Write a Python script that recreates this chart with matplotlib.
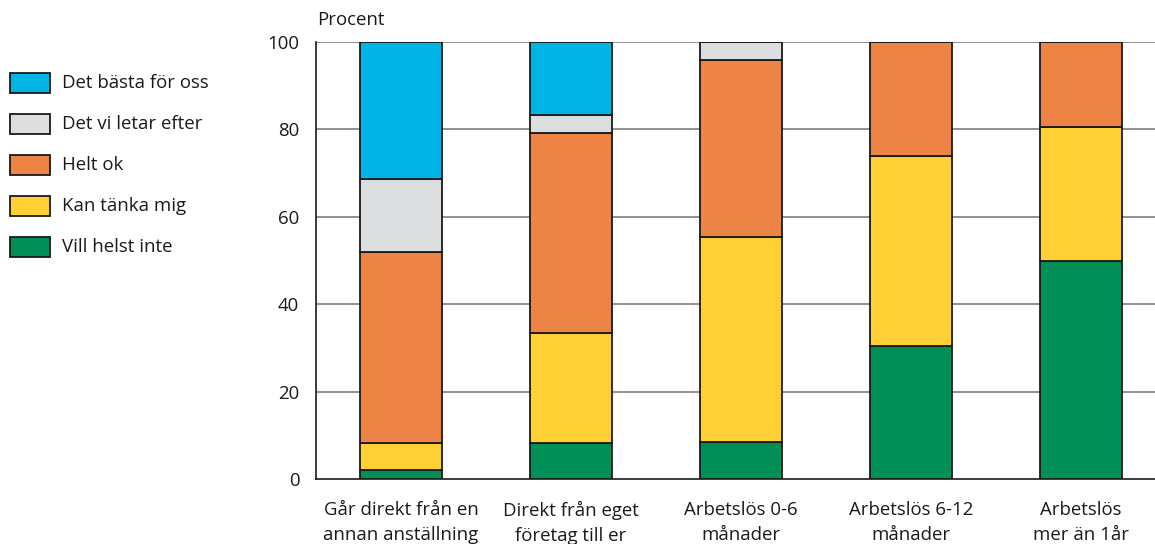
import matplotlib
matplotlib.use("Agg")
import matplotlib.pyplot as plt
import numpy as np
from matplotlib.patches import Rectangle

categories = ["Går direkt från en\nannan anställning",
              "Direkt från eget\nföretag till er",
              "Arbetslös 0-6\nmånader",
              "Arbetslös 6-12\nmånader",
              "Arbetslös\nmer än 1år"]
series_names = ["Vill helst inte", "Kan tänka mig", "Helt ok", "Det vi letar efter", "Det bästa för oss"]
vill_helst_inte = [2.0, 8.2, 8.4, 30.4, 50.0]
kan_tanka_mig = [6.2, 25.2, 47.0, 43.6, 30.5]
helt_ok = [43.7, 45.8, 40.5, 26.0, 19.5]
det_vi_letar_efter = [16.7, 4.1, 4.1, 0.0, 0.0]
det_basta_for_oss = [31.4, 16.7, 0.0, 0.0, 0.0]
yticks = [0, 20, 40, 60, 80, 100]

colors = ["#009057", "#FFD033", "#EE8346", "#DCDDDF", "#00B4E6"]
data = [vill_helst_inte, kan_tanka_mig, helt_ok, det_vi_letar_efter, det_basta_for_oss]

plt.rcParams['font.family'] = ['Open Sans', 'DejaVu Sans']
FS = 13.4

fig = plt.figure(figsize=(11.55, 5.44), dpi=100)
W, H = 1155, 544
x0, x1 = 316, 1166
y0, y1 = 479, 42
ax = fig.add_axes([x0 / W, 1 - y0 / H, (x1 - x0) / W, (y0 - y1) / H])

x = np.arange(len(categories))
bottom = np.zeros(len(categories))
for vals, c, name in zip(data, colors, series_names):
    v = np.array(vals)
    ax.bar(x, v, width=0.482, bottom=bottom, color=c, edgecolor="#1a1a1a",
           linewidth=1.3, zorder=3, label=name)
    bottom += v

ax.set_xlim(-0.5, 4.5)
ax.set_ylim(0, 100)
ax.set_yticks(yticks)
ax.set_yticklabels([str(t) for t in yticks], fontsize=FS)
for t in yticks[1:]:
    ax.axhline(t, color="#7f7f7f", linewidth=1.2, zorder=1)
ax.set_xticks(x)
ax.set_xticklabels(categories, fontsize=FS, linespacing=1.45)
ax.tick_params(axis='both', length=0, colors="#1a1a1a")
ax.tick_params(axis='y', pad=12)
ax.tick_params(axis='x', pad=16)
for s in ["top", "right"]:
    ax.spines[s].set_visible(False)
ax.spines["left"].set_color("#1a1a1a")
ax.spines["bottom"].set_color("#1a1a1a")
ax.spines["left"].set_linewidth(1.2)
ax.spines["bottom"].set_linewidth(1.2)

fig.text(317 / W, 1 - 20 / H, "Procent", fontsize=FS, va="center", ha="left", color="#1a1a1a")

# legend (top to bottom reversed order of stacking)
leg_names = series_names[::-1]
leg_colors = colors[::-1]
for i, (n, c) in enumerate(zip(leg_names, leg_colors)):
    yc = 83 + i * 41
    fig.patches.append(Rectangle((10 / W, 1 - (yc + 10) / H), 40 / W, 20 / H,
                                 transform=fig.transFigure, facecolor=c,
                                 edgecolor="#1a1a1a", linewidth=1.3))
    fig.text(62 / W, 1 - yc / H, n, fontsize=FS, va="center", ha="left", color="#1a1a1a")

fig.savefig("out.png", dpi=100)
